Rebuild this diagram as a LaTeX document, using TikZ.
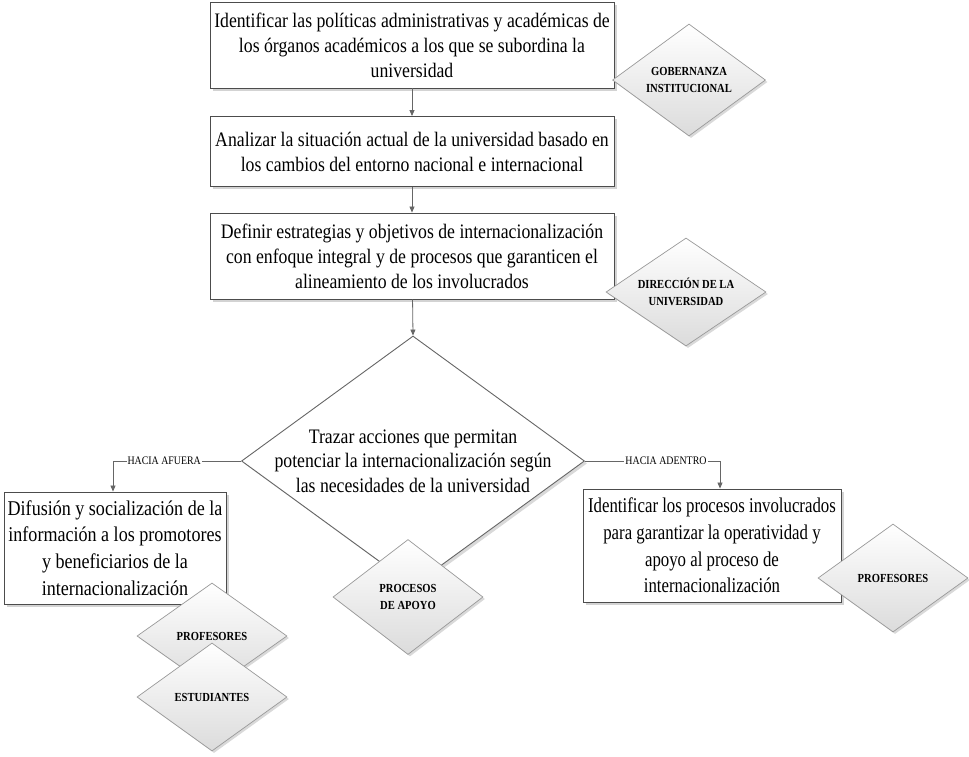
\documentclass[tikz,border=0pt]{standalone}
\usepackage{fontspec}
\setmainfont{Liberation Serif}[FakeStretch=0.86]
\newfontfamily\narrowserif{Liberation Serif}[FakeStretch=0.80]
\usetikzlibrary{shapes.geometric,shadows,arrows.meta}
\begin{document}
\begin{tikzpicture}[x=1pt,y=-1pt,
  box/.style={draw=black!70, line width=0.9pt, fill=white, align=center, inner sep=2pt,
    font=\fontsize{20.6}{25}\selectfont,
    drop shadow={shadow xshift=2.5pt, shadow yshift=-2.5pt, opacity=0.35}},
  role/.style={diamond, aspect=1.4, draw=black!40, line width=0.7pt, top color=white, bottom color=black!14,
    inner sep=0pt, align=center, minimum width=153pt, minimum height=112pt,
    font=\bfseries\fontsize{12.3}{16.5}\selectfont,
    drop shadow={shadow xshift=2pt, shadow yshift=-2pt, opacity=0.3}},
  bigdia/.style={diamond, draw=black!60, line width=0.9pt, fill=white, inner sep=0pt,
    minimum width=343pt, minimum height=250pt,
    drop shadow={shadow xshift=2.5pt, shadow yshift=-2.5pt, opacity=0.3}},
  bigtext/.style={align=center, inner sep=0pt, font=\fontsize{20.6}{24.5}\selectfont},
  conn/.style={draw=black!60, line width=0.8pt, -{Triangle[length=6pt,width=5pt]}},
  lbl/.style={fill=white, inner sep=1pt, font=\fontsize{11.5}{13}\selectfont}]
\useasboundingbox (0,0) rectangle (969,756);

\node[box, minimum width=404pt, minimum height=86pt] (b1) at (412,45)
  {Identificar las políticas administrativas y académicas de\\los órganos académicos a los que se subordina la\\universidad};
\node[box, minimum width=404pt, minimum height=70pt] (b2) at (412,151.5)
  {Analizar la situación actual de la universidad basado en\\los cambios del entorno nacional e internacional};
\node[box, minimum width=404pt, minimum height=86pt] (b3) at (412,256)
  {Definir estrategias y objetivos de internacionalización\\con enfoque integral y de procesos que garanticen el\\alineamiento de los involucrados};
\node[bigdia] (big) at (413,461) {};
\node[bigtext] (bigt) at (big.center)
  {Trazar acciones que permitan\\potenciar la internacionalización según\\las necesidades de la universidad};
\node[box, minimum width=222pt, minimum height=112pt, font=\fontsize{21}{26.7}\selectfont] (lb) at (115,548)
  {Difusión y socialización de la\\información a los promotores\\y beneficiarios de la\\internacionalización};
\node[box, minimum width=258pt, minimum height=113pt, font=\narrowserif\fontsize{21}{26.7}\selectfont] (rb) at (712,545.5)
  {Identificar los procesos involucrados\\para garantizar la operatividad y\\apoyo al proceso de\\internacionalización};

\draw[conn] (b1) -- (b2);
\draw[conn] (b2) -- (b3);
\draw[conn] (b3) -- (big.north);
\draw[conn] (big.west) -| node[lbl, pos=0.3] {HACIA AFUERA} ([xshift=-2pt]lb.north);
\draw[conn] (big.east) -| node[lbl, pos=0.3] {HACIA ADENTRO} ([xshift=8pt]rb.north);

\node[role] (gob) at (689,80) {GOBERNANZA\\INSTITUCIONAL};
\node[role, minimum width=160pt, minimum height=108pt] (dir) at (686,292) {DIRECCIÓN DE LA\\UNIVERSIDAD};
\node[role, minimum width=150pt, minimum height=115pt] (apo) at (408,597) {PROCESOS\\DE APOYO};
\node[role, minimum width=150pt, minimum height=108pt] (prof2) at (893,578) {PROFESORES};
\node[role, minimum width=150pt, minimum height=106pt] (prof1) at (212,636) {PROFESORES};
\node[role, minimum width=150pt, minimum height=108pt] (est) at (212,697) {ESTUDIANTES};
\end{tikzpicture}
\end{document}
